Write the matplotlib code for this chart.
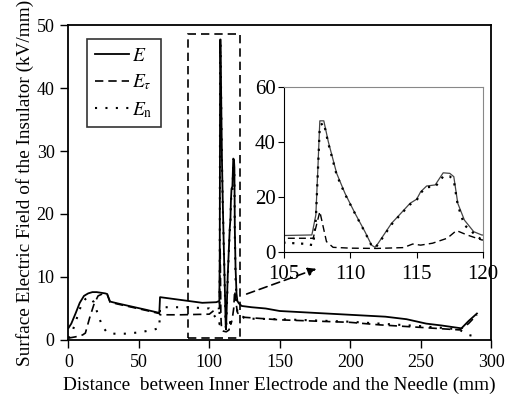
import matplotlib
matplotlib.use("Agg")
import matplotlib.pyplot as plt
from matplotlib.patches import Rectangle

plt.rcParams["font.family"] = ["Liberation Serif", "DejaVu Serif"]
plt.rcParams["mathtext.fontset"] = "stix"

# Field magnitude E (kV/mm) along the insulator surface
dist_e = [0, 2, 5, 8, 11, 14, 17, 20, 23, 26, 27.5, 29.5, 35, 45, 55, 64.5, 65, 75, 85, 95, 105,
          107.1, 107.4, 107.55, 107.7, 108.0, 108.34, 108.97, 109.6, 110.35, 111.1, 111.6, 111.86,
          112.1, 113.1, 113.7, 114.5, 115.0, 115.3, 115.75, 116.4, 117.0, 117.5, 117.8, 118.1,
          118.6, 119.3, 119.9, 121, 123, 130, 140, 150, 175, 200, 225, 240, 254, 265, 279, 284, 290]
field_e = [1.9, 2.6, 4.2, 5.9, 7.0, 7.4, 7.6, 7.6, 7.5, 7.4, 7.3, 6.1, 5.8, 5.3, 4.8, 4.3, 6.8, 6.5, 6.2, 5.9, 6.0,
           6.2, 13.5, 30.0, 47.7, 47.7, 40.1, 28.6, 21.3, 14.1, 7.4, 2.5, 1.7,
           3.2, 10.4, 13.5, 17.7, 19.2, 21.9, 24.0, 24.4, 28.8, 28.6, 27.4, 17.7,
           11.6, 7.4, 6.2, 5.8, 5.4, 5.2, 5.0, 4.6, 4.3, 4.0, 3.7, 3.3, 2.6, 2.3, 1.85, 3.0, 4.2]

# Tangential component
dist_t = [0, 5, 10, 12, 15, 18, 21, 24, 26, 27.5, 29.5, 35, 45, 55, 64.5, 65, 80, 100, 105,
          107.2, 107.7, 108.2, 108.7, 110, 112, 114.0, 114.7, 115.3, 116.2, 117.3, 118.0, 118.8, 119.9,
          121, 125, 150, 200, 221, 250, 277.7, 284, 290]
field_t = [0.3, 0.5, 0.8, 1.1, 3.5, 5.6, 7.0, 7.3, 7.3, 7.2, 6.0, 5.7, 5.2, 4.7, 4.2, 4.0, 4.0, 4.1, 5.0,
           5.0, 14.7, 3.8, 1.7, 1.4, 1.3, 1.6, 2.9, 2.5, 3.2, 5.0, 7.8, 6.2, 4.4,
           4.0, 3.6, 3.2, 2.8, 2.4, 2.0, 1.6, 2.6, 4.0]

# Normal component
dist_n = [0, 3, 6, 9, 12, 15, 18, 21, 24, 27, 30, 40, 50, 60, 64.5, 65, 85, 100, 105, 106.5,
          107.2, 107.4, 107.7, 108.0, 108.34, 108.97, 109.6, 110.35, 111.1, 111.6, 111.86, 112.1,
          113.1, 113.7, 114.5, 115.0, 115.3, 115.75, 116.4, 117.0, 117.5, 117.8, 118.1, 118.6,
          119.3, 119.9, 121, 125, 150, 200, 221, 250, 277, 284, 290]
field_n = [0.3, 1.5, 3.5, 5.5, 6.5, 6.8, 6.0, 4.0, 2.2, 1.3, 1.0, 1.0, 1.2, 1.6, 1.9, 5.2, 5.2, 5.0, 3.4, 3.0,
           2.5, 12.0, 46.0, 47.0, 39.5, 28.0, 21.0, 14.0, 7.2, 2.3, 1.5, 2.8,
           10.0, 13.2, 17.3, 18.8, 21.5, 23.6, 23.7, 27.5, 27.5, 26.0, 17.0, 9.8,
           6.8, 4.4, 4.4, 3.4, 3.3, 2.9, 2.6, 2.2, 1.7, 0.8, 0.5]

x_ticks = [0, 50, 100, 150, 200, 250, 300]
y_ticks = [0, 10, 20, 30, 40, 50]
inset_x_ticks = [105, 110, 115, 120]
inset_y_ticks = [0, 20, 40, 60]

dash = (0, (5, 3))
dot = (0, (1, 4))

fig = plt.figure(figsize=(5.05, 3.99), dpi=100)
ax = fig.add_axes([0.1356, 0.1479, 0.8367, 0.7894])

ax.plot(dist_e, field_e, color="black", lw=1.3, linestyle="-", label="$E$")
ax.plot(dist_t, field_t, color="black", lw=1.2, linestyle=dash, label=r"$E_\tau$")
ax.plot(dist_n, field_n, color="black", lw=1.5, linestyle=dot, label=r"$E_\mathrm{n}$")

ax.set_xlim(0, 300)
ax.set_ylim(0, 50)
ax.set_xticks(x_ticks)
ax.set_yticks(y_ticks)
ax.tick_params(direction="out", length=6, width=1, labelsize=13, pad=4)
for s in ax.spines.values():
    s.set_linewidth(1.3)

ax.set_xlabel("Distance  between Inner Electrode and the Needle (mm)", fontsize=13.9, labelpad=4)
ax.set_ylabel("Surface Electric Field of the Insulator (kV/mm)", fontsize=13.9, labelpad=2)

leg = ax.legend(loc="upper left", bbox_to_anchor=(0.045, 0.955), fontsize=14, frameon=True,
                fancybox=False, edgecolor="black", handlelength=1.75, handletextpad=0.15,
                borderpad=0.4, labelspacing=0.4, borderaxespad=0)
leg.get_frame().set_linewidth(1.2)

# zoom window and arrow
ax.add_patch(Rectangle((85, 0.3), 36.5, 48.3, fill=False, lw=1.2, linestyle=dash, color="black"))
ax.annotate("", xy=(176, 11.3), xytext=(126.5, 7.3),
            arrowprops=dict(arrowstyle="-|>", linestyle=(0, (5, 3)), lw=1.2, color="black",
                            mutation_scale=12, shrinkA=0, shrinkB=0))

# inset
ins = fig.add_axes([0.5624, 0.3684, 0.394, 0.4135])
ins.set_facecolor("white")
ins.plot(dist_e, field_e, color="#444444", lw=0.9, linestyle="-")
ins.plot(dist_t, field_t, color="black", lw=1.0, linestyle=dash)
ins.plot(dist_n, field_n, color="black", lw=1.6, linestyle=(0, (1, 3)))
ins.set_xlim(105, 120)
ins.set_ylim(0, 60)
ins.set_xticks(inset_x_ticks)
ins.set_yticks(inset_y_ticks)
ins.tick_params(direction="out", length=4, width=0.8, labelsize=15)
ins.tick_params(axis="x", pad=5)
ins.tick_params(axis="y", pad=2)
ins.spines["top"].set_color("#888888")
ins.spines["right"].set_color("#888888")
ins.spines["top"].set_linewidth(0.8)
ins.spines["right"].set_linewidth(0.8)

fig.savefig("out.png", dpi=100)
